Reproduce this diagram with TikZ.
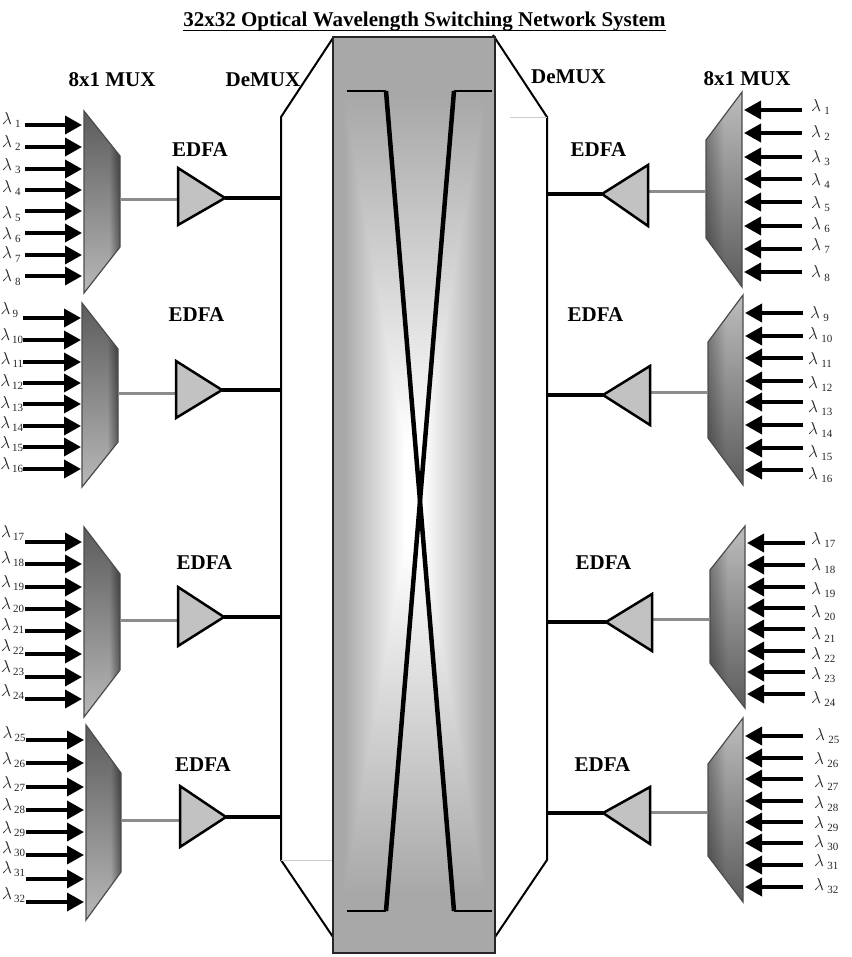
\documentclass[tikz,border=0pt]{standalone}
\usepackage{fontspec}
\setmainfont{Liberation Serif}
\usepackage{tikz}
\usetikzlibrary{arrows.meta}

% mux on the left side, darker to the top and to the right
\pgfdeclarefunctionalshading{muxl}{\pgfpointorigin}{\pgfpoint{100bp}{100bp}}{}{
  25 sub 2 mul 100 exch sub 0.0036 mul 0.36 add exch
  25 sub 2 mul 70 sub 30 div dup 0 lt {pop 0} if 0.45 mul 1 exch sub mul
  dup dup}
% mux on the right side, darker to the bottom and to the left
\pgfdeclarefunctionalshading{muxr}{\pgfpointorigin}{\pgfpoint{100bp}{100bp}}{}{
  25 sub 2 mul 0.0038 mul 0.36 add exch
  25 sub 2 mul 50 div dup 1 gt {pop 1} if 0.3 mul 0.7 add mul
  dup dup}
% switch fabric, white in the middle and grey on all four edges
\pgfdeclarefunctionalshading{fabric}{\pgfpointorigin}{\pgfpoint{100bp}{100bp}}{}{
  50 sub abs 25 div exch 50 sub abs 25 div
  2 copy gt {pop} {exch pop} ifelse
  0.45 mul 1.05 exch sub
  dup 1 gt {pop 1} if dup 0.66 lt {pop 0.66} if
  dup dup}

\begin{document}
\begin{tikzpicture}[x=1pt, y=-1pt]

\tikzstyle{mux}= [draw=black!70, line width=1.2pt]
\tikzstyle{amp}= [draw=black, line width=2.5pt, fill=black!24, line join=miter]
\tikzstyle{thn}= [draw=black, line width=2pt]
\tikzstyle{thk}= [draw=black, line width=4.5pt]
\tikzstyle{gry}= [draw=black!45, line width=3pt]
\tikzstyle{inp}= [draw=black, line width=3.5pt, -{Triangle[length=17pt,width=18pt]}]
\tikzstyle{lam}= [inner sep=0pt, outer sep=0pt, text=black!85, font=\fontsize{18}{18}\selectfont]
\tikzstyle{hd}= [inner sep=0pt, font=\bfseries\fontsize{21}{21}\selectfont]

\useasboundingbox (0,0) rectangle (851,957);

    % demux outlines
    \coordinate (DL-0) at (333,38);  \coordinate (DL-1) at (281,117);
    \coordinate (DL-2) at (281,860); \coordinate (DL-3) at (333,937);
    \coordinate (DR-0) at (493,35);  \coordinate (DR-1) at (547,117);
    \coordinate (DR-2) at (547,860); \coordinate (DR-3) at (495,937);
    \coordinate (DT-0) at (510,117); \coordinate (DB-0) at (333,860);
    \draw[thn] (DL-0) -- (DL-1) -- (DL-2) -- (DL-3);
    \draw[thn] (DR-0) -- (DR-1) -- (DR-2) -- (DR-3);
    \draw[black!20, line width=0.8pt] (DT-0) -- (DR-1);
    \draw[black!20, line width=0.8pt] (DL-2) -- (DB-0);

    % switch fabric
    \coordinate (F-0) at (333,37); \coordinate (F-1) at (495,953);
    \shade[shading=fabric, draw=black!85, line width=2.5pt] (F-0) rectangle (F-1);

    % crossing paths
    \coordinate (X-0) at (347,91);  \coordinate (X-1) at (386,91);
    \coordinate (X-2) at (454,911); \coordinate (X-3) at (492,911);
    \coordinate (X-4) at (492,91);  \coordinate (X-5) at (454,91);
    \coordinate (X-6) at (386,911); \coordinate (X-7) at (347,911);
    \path (X-0) edge[thn] (X-1);
    \path (X-1) edge[thk] (X-2);
    \path (X-2) edge[thn] (X-3);
    \path (X-4) edge[thn] (X-5);
    \path (X-5) edge[thk] (X-6);
    \path (X-6) edge[thn] (X-7);

    % left muxes and amplifiers
    \foreach \g/\xa/\xb/\yt/\yu/\yv/\yb/\yg/\bx/\bt/\bb/\tx/\ty in {
        A/84/120/111/156/247/293/199.5/178/168/225/225/198,
        B/82/118/303/349/442/487/393/176/361/418/222/390,
        C/84/120/527/574/670/717/620/178/587/646/224/617,
        D/86/121/725/773/872/920/820/180/786/847/226/817}
    {
        \shade[mux, shading=muxl] (\xa,\yt) -- (\xb,\yu) -- (\xb,\yv) -- (\xa,\yb) -- cycle;
        \coordinate (\g-out) at (\xb,\yg);
        \coordinate (\g-amp) at (\bx,\yg);
        \coordinate (\g-tip) at (\tx,\ty);
        \coordinate (\g-dem) at (281,\ty);
        \path (\g-out) edge[gry] (\g-amp);
        \path (\g-tip) edge[thk] (\g-dem);
        \draw[amp] (\bx,\bt) -- (\g-tip) -- (\bx,\bb) -- cycle;
    }

    % right muxes and amplifiers
    \foreach \g/\xa/\xb/\yt/\yu/\yv/\yb/\yg/\bx/\bt/\bb/\tx/\ty in {
        E/742/706/92/140/238/287/192/648/165/226/602/194,
        F/743/708/295/342/438/485/392/650/366/425/603/395,
        G/745/710/526/570/663/708/619/652/594/651/606/622,
        H/743/708/718/764/856/902/812/650/787/844/603/813}
    {
        \shade[mux, shading=muxr] (\xa,\yt) -- (\xb,\yu) -- (\xb,\yv) -- (\xa,\yb) -- cycle;
        \coordinate (\g-out) at (\xb,\yg);
        \coordinate (\g-amp) at (\bx,\yg);
        \coordinate (\g-tip) at (\tx,\ty);
        \coordinate (\g-dem) at (547,\ty);
        \path (\g-out) edge[gry] (\g-amp);
        \path (\g-tip) edge[thk] (\g-dem);
        \draw[amp] (\bx,\bt) -- (\g-tip) -- (\bx,\bb) -- cycle;
    }

    % input arrows and wavelength labels
    \foreach \g/\xs/\xe/\anc/\gap/\base/\ys in {
        A/25/82/east/3/0/{125/124/20.5,147/147/20.5,169/170/20.5,190/192/20.5,211/218/20.5,233/239/20.5,255/258/20.5,276/281/20.5},
        B/23/81/east/2/8/{318/313/18,340/339/23.2,362/363/23.2,383/385/23.2,404/407/23.2,426/427/23.2,447/447/23.2,469/468/23.2},
        C/25/82/east/2/16/{542/536/24,564/562/24,587/586/24,609/608/24,631/629/24,654/650/24,677/671/24,699/695/24},
        D/26/84/east/2/24/{740/737/25.5,763/763/25,787/787/25,810/809/25,832/832/25,855/852/25,879/872/25,902/898/25},
        E/802/744/west/3.5/0/{110/111/811,133/137/811,157/162/811,179/185/811,202/208/811,226/229/811,249/250/811,272/277/811},
        F/803/745/west/3.5/8/{313/317/810,336/338/808,358/363/808,381/387/808,402/411/808,425/433/808,448/456/808,470/478/808},
        G/805/747/west/3.5/16/{543/543/811,565/569/811,587/593/811,608/616/811,629/638/811,651/658/811,672/678/811,694/702/811},
        H/803/745/west/3.5/24/{736/739/815,758/763/814,779/786/814,801/807/814,822/827/814,843/846/814,865/865/814,887/889/814}}
    {
        \foreach \ya/\yl/\xl [count=\k] in \ys
        {
            \pgfmathtruncatemacro{\num}{\base+\k}
            \coordinate (\g-src-\k) at (\xs,\ya);
            \coordinate (\g-dst-\k) at (\xe,\ya);
            \path (\g-src-\k) edge[inp] (\g-dst-\k);
            \node[lam, anchor=base \anc] (\g-lam-\k) at (\xl,\yl+1)
                {$\lambda$\hspace{\gap pt}\raisebox{-3pt}{\fontsize{11}{11}\selectfont\num}};
        }
    }

    % headings
    \node[hd, anchor=base] (title) at (424.5,27) {32x32 Optical Wavelength Switching Network System};
    \draw[line width=1.5pt] ([yshift=-3.5pt]title.base west) -- ([yshift=-3.5pt]title.base east);
    \node[hd] (mux-l) at (112,80) {8x1 MUX};
    \node[hd] (mux-r) at (747,79) {8x1 MUX};
    \node[hd] (dem-l) at (263,80) {DeMUX};
    \node[hd] (dem-r) at (568.5,77) {DeMUX};
    \foreach \i/\x/\y in {a/200/149.5,b/196.5/315,c/204.5/563,d/203/765,e/598.5/150,f/595.5/315,g/603.5/563,h/602.5/765}
        \node[hd] (edfa-\i) at (\x,\y) {EDFA};

\end{tikzpicture}
\end{document}
